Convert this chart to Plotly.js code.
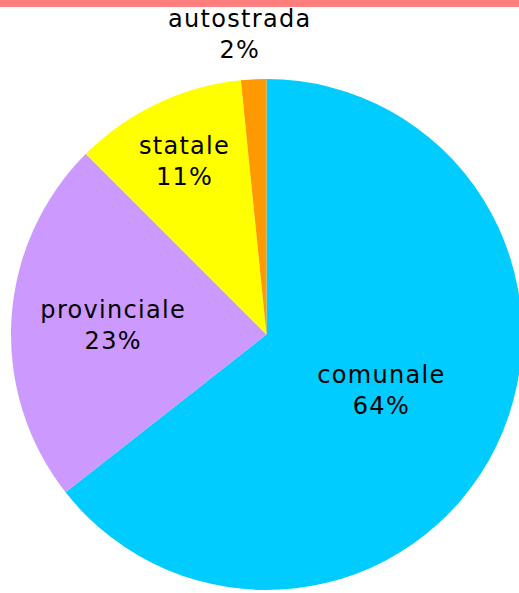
<!DOCTYPE html>
<html>
<head>
<meta charset="utf-8">
<script src="https://cdn.plot.ly/plotly-3.0.1.min.js"></script>
<style>
  html, body { margin: 0; padding: 0; overflow: hidden; background: #fff; }
  #bar { position: absolute; left: 0; top: 0; width: 519px; height: 7px; background: #ff7f7f; z-index: 10; }
  #myDiv { width: 530px; height: 593px; }
  .slicetext, .annotation-text { letter-spacing: 1.3px; }
</style>
</head>
<body>
<div id="bar"></div>
<div id="myDiv"></div>
<script>
var labels = ['comunale', 'provinciale', 'statale', 'autostrada'];
var values = [64.4, 23.1, 10.9, 1.6];
var colors = ['#00ccff', '#cc99ff', '#ffff00', '#ff9900'];
// the small slice gets its label above the pie, as an annotation
var positions = ['inside', 'inside', 'inside', 'none'];

var total = values.reduce(function (a, b) { return a + b; }, 0);
var smallText = labels[3] + '<br>' + Math.round(values[3] / total * 100) + '%';

var data = [{
  type: 'pie',
  labels: labels,
  values: values,
  sort: false,
  direction: 'clockwise',
  rotation: 0,
  marker: {colors: colors, line: {width: 0}},
  texttemplate: '%{label}<br>%{percent:.0%}',
  textposition: positions,
  insidetextorientation: 'horizontal',
  textfont: {family: 'DejaVu Sans', size: 24, color: '#000'},
  automargin: false,
  hoverinfo: 'label+percent'
}];

var layout = {
  width: 530,
  height: 593,
  margin: {l: 11, r: 8, t: 79, b: 3},
  showlegend: false,
  paper_bgcolor: '#fff',
  annotations: [{
    xref: 'paper', yref: 'paper',
    x: 0.448, y: 1.088,
    xanchor: 'center', yanchor: 'middle',
    text: smallText,
    showarrow: false,
    font: {family: 'DejaVu Sans', size: 24, color: '#000'}
  }]
};

Plotly.newPlot('myDiv', data, layout, {displayModeBar: false, staticPlot: true});
</script>
</body>
</html>
